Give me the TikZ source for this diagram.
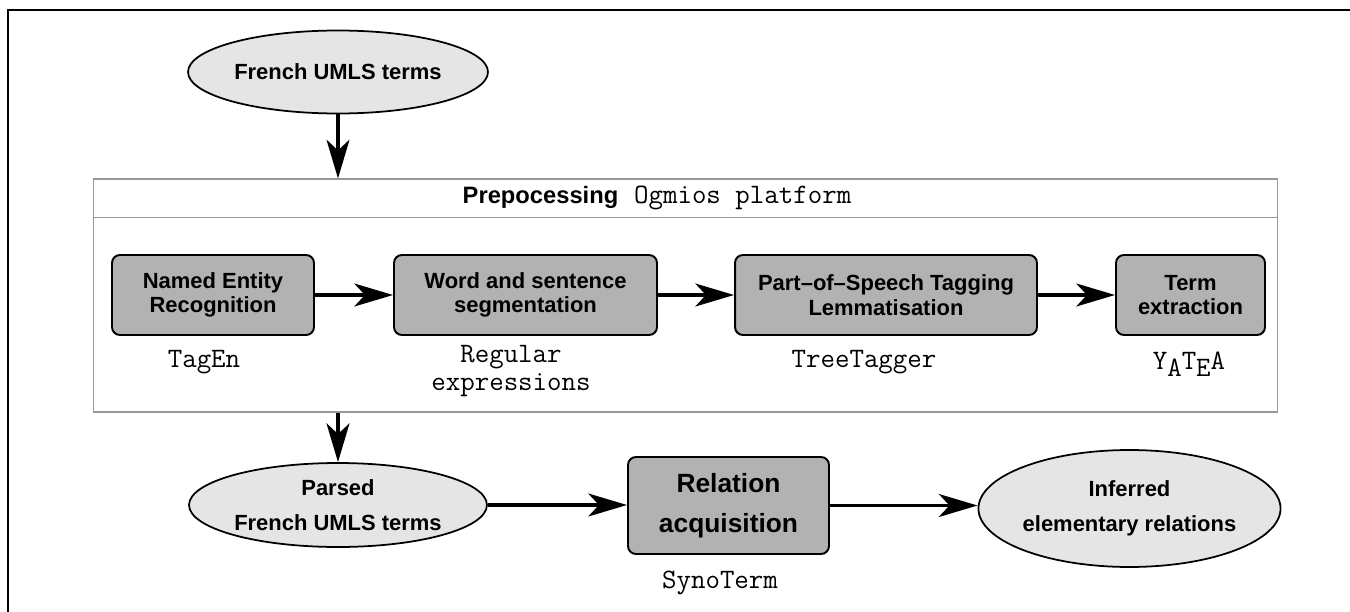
\documentclass[tikz,border=0pt]{standalone}
\usepackage{fontspec}
\setmainfont{Liberation Sans}
\usepackage{tikz}
\usetikzlibrary{arrows.meta,shapes.geometric}

\definecolor{boxgray}{gray}{0.70}
\definecolor{ovalgray}{gray}{0.90}
\definecolor{framegray}{gray}{0.60}

\tikzset{
  oval/.style={ellipse, draw, line width=1pt, fill=ovalgray, inner sep=0pt, align=center,
    font=\fontsize{12.5}{20}\selectfont\bfseries},
  stepbox/.style={rectangle, rounded corners=4.5pt, draw, line width=1.1pt, fill=boxgray,
    inner sep=0pt, align=center, minimum height=1.6cm, font=\fontsize{12.5}{14}\selectfont\bfseries},
  tool/.style={align=center, font=\fontsize{16}{16}\selectfont\ttfamily},
  flow/.style={-{Stealth[length=22pt,width=13pt,inset=6pt]}, line width=2.2pt}
}

\begin{document}
\begin{tikzpicture}[x=0.02cm,y=-0.02cm]
        \useasboundingbox (0,0) rectangle (1350,612);
        % outer border
        \draw[line width=0.8pt] (8,612) -- (8,10) -- (1350,10);

        % Input terms
        \node[oval, minimum width=6cm, minimum height=1.66cm] (french) at (338,72) {French UMLS terms};

        % Preprocessing platform
        \node[draw=framegray, line width=0.6pt, minimum width=23.7cm, minimum height=4.66cm, inner sep=0pt] (prep) at (685.5,295.5) {};
        \draw[framegray, line width=0.6pt] (prep.north west) ++(0,39) -- ++(1185,0);
        \node (hdr) at (657,198) {{\fontsize{13.5}{16}\selectfont\bfseries Prepocessing}\hspace{0.9em}{\fontsize{16}{16}\selectfont\ttfamily Ogmios platform}};

        \node[stepbox, minimum width=4.04cm] (ner) at (213,295) {Named Entity\\Recognition};
        \node[stepbox, minimum width=5.26cm] (seg) at (525.5,295) {Word and sentence\\segmentation};
        \node[stepbox, minimum width=6.04cm] (pos) at (886,295) {Part--of--Speech Tagging\\Lemmatisation};
        \node[stepbox, minimum width=2.98cm] (term) at (1190.5,295) {Term\\extraction};

        \node[tool] (tagen) at (204,362) {TagEn};
        \node[tool] (regex) at (511,371) {Regular\\expressions};
        \node[tool] (treetagger) at (864,362) {TreeTagger};
        \node[tool] (yatea) at (1189,364) {Y\raisebox{-0.6ex}{A}T\raisebox{-0.6ex}{E}A};

        \foreach \a/\b in {ner/seg,seg/pos,pos/term}
            \draw[flow] (\a) -- (\b);

        % Relation acquisition
        \node[oval, minimum width=5.96cm, minimum height=1.68cm] (parsed) at (338,505) {Parsed\\French UMLS terms};
        \node[stepbox, minimum width=4.02cm, minimum height=1.94cm, font=\fontsize{15}{22.5}\selectfont\bfseries] (rel) at (728.5,505.5) {Relation\\acquisition};
        \node[tool] (synoterm) at (720,583) {SynoTerm};
        \node[oval, minimum width=5.86cm, minimum height=2.34cm] (inferred) at (1129.5,508.5) {Inferred\\elementary relations};

        \draw[flow] (french.south) -- (french.south |- prep.north);
        \draw[flow] (parsed.north |- prep.south) -- (parsed.north);
        \draw[flow] (parsed.east) -- (parsed.east -| rel.west);
        \draw[flow] (rel.east) -- (rel.east -| inferred.west);
\end{tikzpicture}
\end{document}
